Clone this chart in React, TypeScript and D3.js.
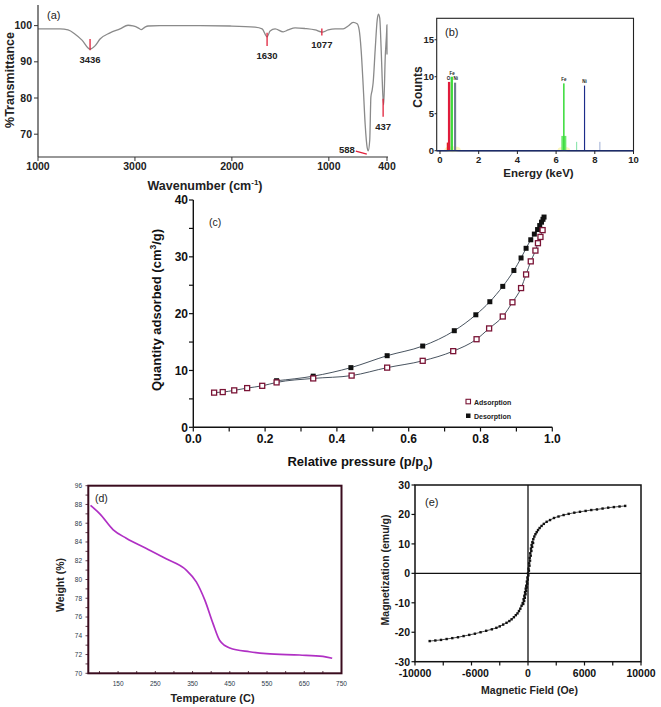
import React from "react";
import * as d3 from "d3";

// ---------- (a) FTIR ----------
const irWavenumber = [4000,3773,3690,3620,3546,3463,3412,3360,3257,3154,3071,3020,2968,2937,2896,2865,2741,2328,2019,1761,1688,1637,1606,1554,1471,1420,1348,1245,1141,1069,1007,935,852,801,749,708,687,667,646,625,604,594,578,566,553,543,522,501,488,475,460,442,434,418,403,401,400];
const irTransmittance = [99.1,99.1,98.8,97.7,96.0,93.5,94.4,96.3,98.0,99.1,100.1,99.9,99.4,98.9,99.6,99.9,100,100,99.9,99.6,99.1,96.9,98.5,99.1,98.3,98.8,99.4,99.2,98.8,98.2,98.8,99.1,99.1,99.9,100.9,100.5,98.8,93.3,83.6,72.6,66.2,65.4,68.4,80.3,82.2,84.2,93.3,101.6,103.2,102.1,93.3,80.4,78.1,91.4,98.8,100.2,92];
const irXTicks = [4000, 3000, 2000, 1000, 400];
const irXTickLabels = ["1000", "3000", "2000", "1000", "400"];
const irYTicks = [70, 80, 90, 100];
const irPeakLabels = ["3436", "1630", "1077", "588", "437"];
const irPeakWn = [3463, 1637, 1072, 598, 440];
const irPeakTop = [96.3, 98.0, 99.2, 67.5, 79.8];
const irPeakBottom = [93.2, 94.4, 97.3, 64.5, 74.8];

// ---------- (b) EDX ----------
const edxEnergy = [0.42, 0.47, 0.61, 0.78, 6.40, 6.40, 7.06, 7.47, 8.26];
const edxCounts = [1.1, 9.3, 10.0, 9.2, 2.0, 9.1, 1.2, 8.8, 1.2];
const edxWidth = [0.14, 0.12, 0.12, 0.11, 0.26, 0.08, 0.06, 0.06, 0.07];
const edxColor = ["#e02020", "#e01c3c", "#3ddc3d", "#707c90", "#6be86b", "#3ddc3d", "#8fe6b0", "#1c2c8a", "#b8c4e0"];
const edxLabelText = ["O", "Fe", "Ni", "Fe", "Ni"];
const edxLabelE = [0.44, 0.63, 0.82, 6.40, 7.47];
const edxLabelY = [9.6, 10.3, 9.5, 9.4, 9.1];
const edxXTicks = [0, 2, 4, 6, 8, 10];
const edxYTicks = [0, 5, 10, 15];

// ---------- (c) BET ----------
const adsP = [0.058,0.082,0.114,0.150,0.192,0.232,0.334,0.441,0.540,0.639,0.724,0.789,0.824,0.862,0.889,0.913,0.927,0.940,0.953,0.960,0.967,0.973];
const adsQ = [6.1,6.2,6.5,6.9,7.3,7.9,8.6,9.1,10.5,11.7,13.4,15.5,17.4,19.5,22.0,24.5,26.9,29.2,31.1,32.4,33.5,34.7];
const desP = [0.232,0.334,0.439,0.540,0.639,0.727,0.787,0.826,0.862,0.893,0.913,0.927,0.940,0.950,0.959,0.965,0.970,0.974,0.977];
const desQ = [8.2,9.0,10.5,12.6,14.3,17.0,19.8,22.1,24.8,27.6,29.8,31.5,33.0,34.0,34.8,35.5,36.1,36.6,37.0];
const betXTicks = [0, 0.2, 0.4, 0.6, 0.8, 1.0];
const betYTicks = [0, 10, 20, 30, 40];
const betLegend = ["Adsorption", "Desorption"];

// ---------- (d) TGA ----------
const tgaTemp = [76,101,137,172,226,279,333,360,383,405,423,450,503,548,637,700,725];
const tgaWeight = [87.9,87.0,85.3,84.4,83.3,82.2,81.0,79.75,77.8,75.3,73.5,72.7,72.3,72.1,71.95,71.8,71.6];
const tgaXTicks = [150, 250, 350, 450, 550, 650, 750];
const tgaYTicks = [70, 72, 74, 76, 78, 80, 82, 84, 86, 88, 90];
const tgaYTickLabels = ["70", "72", "74", "76", "78", "80", "82", "84", "86", "88", "96"];

// ---------- (e) VSM ----------
const vsmH = [-8700,-8200,-7700,-7200,-6700,-6200,-5700,-5200,-4700,-4200,-3700,-3200,-2800,-2500,-2200,-1900,-1650,-1450,-1250,-1080,-930,-800,-680,-570,-470,-390,-320,-260,-200,-150,-100,-50,0,50,100,150,200,260,320,390,470,560,660,770,890,1030,1200,1400,1650,1950,2300,2700,3150,3600,4100,4600,5100,5600,6100,6600,7100,7600,8100,8600];
const vsmM = [-23.0,-22.8,-22.6,-22.3,-22.0,-21.7,-21.3,-20.9,-20.5,-20.0,-19.5,-19.0,-18.5,-18.0,-17.4,-16.8,-16.2,-15.6,-14.9,-14.2,-13.6,-12.8,-12.0,-11.0,-10.1,-8.8,-7.6,-6.4,-5.2,-4.2,-2.8,-1.4,0,1.6,3.4,5.2,6.8,8.4,9.6,10.6,11.6,12.5,13.3,14.0,14.7,15.4,16.1,16.8,17.5,18.1,18.8,19.3,19.8,20.2,20.6,20.9,21.2,21.5,21.7,22.0,22.3,22.5,22.7,22.9];
const vsmReturnH = [-420,-340,-280,-220,-170,-120,-70,-20,30,80,130,180,240,300,370,450];
const vsmReturnM = [-10.4,-9.4,-8.3,-7.1,-6.0,-4.8,-3.5,-2.1,-0.7,0.9,2.6,4.3,6.0,7.6,9.0,10.3];
const vsmXTicks = [-10000, -7500, -5000, -2500, 0, 2500, 5000, 7500, 10000];
const vsmXLabelTicks = [-10000, -5000, 0, 5000, 10000];
const vsmXLabels = ["-10000", "-6000", "0", "6000", "10000"];
const vsmYTicks = [-30, -20, -10, 0, 10, 20, 30];

const FONT = "Liberation Sans, Arial, Helvetica, sans-serif";

function PanelA() {
  const x = d3.scaleLinear().domain([4000, 400]).range([38, 387]);
  const y = d3.scaleLinear().domain([63.7, 105.7]).range([157, 5]);
  const line = d3.line<number>().x((_, i) => x(irWavenumber[i])).y((d) => y(d)).curve(d3.curveMonotoneX);
  return (
    <g fontFamily={FONT}>
      <path d={line(irTransmittance) || ""} fill="none" stroke="#8a8a8a" strokeWidth={1.3} />
      <line x1={38} x2={38} y1={5} y2={157} stroke="#333" strokeWidth={1.2} />
      <line x1={38} x2={388} y1={157} y2={157} stroke="#333" strokeWidth={1.2} />
      {irXTicks.map((t, i) => (
        <g key={i}>
          <line x1={x(t)} x2={x(t)} y1={157} y2={161} stroke="#333" />
          <text x={x(t)} y={170} fontSize={10.5} fontWeight="bold" textAnchor="middle" fill="#222">{irXTickLabels[i]}</text>
        </g>
      ))}
      {irYTicks.map((t) => (
        <g key={t}>
          <line x1={34} x2={38} y1={y(t)} y2={y(t)} stroke="#333" />
          <text x={32} y={y(t) + 3.5} fontSize={10.5} fontWeight="bold" textAnchor="end" fill="#222">{t}</text>
        </g>
      ))}
      {irPeakLabels.map((lab, i) => {
        const px = x(irPeakWn[i]);
        if (lab === "588") {
          return (
            <g key={lab}>
              <line x1={px - 12} x2={px - 1} y1={y(irPeakBottom[i]) - 3} y2={y(irPeakBottom[i])} stroke="#e0203a" strokeWidth={1.3} />
              <text x={px - 21} y={y(irPeakBottom[i]) - 1} fontSize={9.5} fontWeight="bold" textAnchor="middle" fill="#222">{lab}</text>
            </g>
          );
        }
        return (
          <g key={lab}>
            <line x1={px} x2={px} y1={y(irPeakTop[i])} y2={y(irPeakBottom[i])} stroke="#e0203a" strokeWidth={1.3} />
            <text x={px} y={y(irPeakBottom[i]) + 13} fontSize={9.5} fontWeight="bold" textAnchor="middle" fill="#222">{lab}</text>
          </g>
        );
      })}
      <text x={47} y={19} fontSize={11} fill="#222">(a)</text>
      <text transform="translate(14,80) rotate(-90)" fontSize={12.5} fontWeight="bold" textAnchor="middle" fill="#222">%Transmittance</text>
      <text x={205} y={190} fontSize={12.5} fontWeight="bold" textAnchor="middle" fill="#222">
        Wavenumber (cm<tspan dy={-5} fontSize={8}>-1</tspan><tspan dy={5}>)</tspan>
      </text>
    </g>
  );
}

function PanelB() {
  const x = d3.scaleLinear().domain([-0.17, 10]).range([436.7, 633.5]);
  const y = d3.scaleLinear().domain([0, 17.9]).range([150.7, 18.3]);
  return (
    <g fontFamily={FONT}>
      <rect x={436.7} y={18.3} width={196.8} height={132.4} fill="white" stroke="#222" strokeWidth={1.1} />
      <ellipse cx={x(0.65)} cy={y(0.2)} rx={8} ry={3} fill="#fbf6b0" opacity={0.8} />
      <ellipse cx={x(6.4)} cy={y(0.2)} rx={6} ry={2.5} fill="#fbf6b0" opacity={0.8} />
      {edxEnergy.map((e, i) => (
        <rect key={i} x={x(e - edxWidth[i] / 2)} y={y(edxCounts[i])} width={x(e + edxWidth[i] / 2) - x(e - edxWidth[i] / 2)} height={y(0) - y(edxCounts[i])} fill={edxColor[i]} />
      ))}
      {edxLabelText.map((t, i) => (
        <text key={i} x={x(edxLabelE[i])} y={y(edxLabelY[i])} fontSize={4.5} fontWeight="bold" textAnchor="middle" fill="#222">{t}</text>
      ))}
      <line x1={436.7} x2={633.5} y1={150.7} y2={150.7} stroke="#1c2c6a" strokeWidth={1.4} />
      {edxXTicks.map((t) => (
        <g key={t}>
          <line x1={x(t)} x2={x(t)} y1={151} y2={154} stroke="#222" />
          <text x={x(t)} y={162.5} fontSize={9.5} fontWeight="bold" textAnchor="middle" fill="#222">{t}</text>
        </g>
      ))}
      {edxYTicks.map((t) => (
        <g key={t}>
          <line x1={434.5} x2={436.7} y1={y(t)} y2={y(t)} stroke="#222" />
          <text x={434} y={y(t) + 3.3} fontSize={9.5} fontWeight="bold" textAnchor="end" fill="#222">{t}</text>
        </g>
      ))}
      <text x={445} y={36} fontSize={11} fill="#222">(b)</text>
      <text transform="translate(422.3,87) rotate(-90)" fontSize={12} fontWeight="bold" textAnchor="middle" fill="#222">Counts</text>
      <text x={538.5} y={177} fontSize={11.5} fontWeight="bold" textAnchor="middle" fill="#222">Energy (keV)</text>
    </g>
  );
}

function PanelC() {
  const x = d3.scaleLinear().domain([0, 1]).range([193.3, 552.3]);
  const y = d3.scaleLinear().domain([0, 40]).range([427.3, 200]);
  const lineA = d3.line<number>().x((_, i) => x(adsP[i])).y((d) => y(d)).curve(d3.curveMonotoneX);
  const lineD = d3.line<number>().x((_, i) => x(desP[i])).y((d) => y(d)).curve(d3.curveMonotoneX);
  const minorX = d3.range(0, 11).map((k) => k / 10);
  const minorY = d3.range(0, 9).map((k) => k * 5);
  const s = 5;
  return (
    <g fontFamily={FONT}>
      <path d={lineA(adsQ) || ""} fill="none" stroke="#33404d" strokeWidth={0.9} />
      <path d={lineD(desQ) || ""} fill="none" stroke="#33404d" strokeWidth={0.9} />
      {desP.map((p, i) => (
        <rect key={"d" + i} x={x(p) - s / 2} y={y(desQ[i]) - s / 2} width={s} height={s} fill="#111" />
      ))}
      {adsP.map((p, i) => (
        <rect key={"a" + i} x={x(p) - s / 2} y={y(adsQ[i]) - s / 2} width={s} height={s} fill="white" stroke="#7a1436" strokeWidth={1.3} />
      ))}
      <line x1={193.3} x2={193.3} y1={200} y2={427.3} stroke="#111" strokeWidth={1.4} />
      <line x1={193.3} x2={552.3} y1={427.3} y2={427.3} stroke="#111" strokeWidth={1.4} />
      {minorX.map((t, i) => (
        <line key={i} x1={x(t)} x2={x(t)} y1={427.3} y2={431.5} stroke="#111" strokeWidth={1.2} />
      ))}
      {minorY.map((t, i) => (
        <line key={i} x1={189} x2={193.3} y1={y(t)} y2={y(t)} stroke="#111" strokeWidth={1.2} />
      ))}
      {betXTicks.map((t) => (
        <text key={t} x={x(t)} y={443} fontSize={12} fontWeight="bold" textAnchor="middle" fill="#111">{t.toFixed(1)}</text>
      ))}
      {betYTicks.map((t) => (
        <text key={t} x={188} y={y(t) + 4.3} fontSize={12} fontWeight="bold" textAnchor="end" fill="#111">{t}</text>
      ))}
      <rect x={466} y={399.3} width={4.5} height={4.5} fill="white" stroke="#7a1436" strokeWidth={1.1} />
      <rect x={466} y={413.5} width={4.5} height={4.5} fill="#111" />
      <text x={474} y={404.5} fontSize={7} fontWeight="bold" fill="#222">{betLegend[0]}</text>
      <text x={474} y={418.5} fontSize={7} fontWeight="bold" fill="#222">{betLegend[1]}</text>
      <text x={209} y={225.5} fontSize={10.5} fill="#222">(c)</text>
      <text transform="translate(161,310) rotate(-90)" fontSize={13} fontWeight="bold" textAnchor="middle" fill="#111">
        Quantity adsorbed (cm<tspan dy={-5} fontSize={8.5}>3</tspan><tspan dy={5}>/g)</tspan>
      </text>
      <text x={360} y={466} fontSize={13} fontWeight="bold" textAnchor="middle" fill="#111">
        Relative pressure (p/p<tspan dy={5} fontSize={9}>0</tspan><tspan dy={-5}>)</tspan>
      </text>
    </g>
  );
}

function PanelD() {
  const x = d3.scaleLinear().domain([70, 750]).range([88.3, 341.5]);
  const y = d3.scaleLinear().domain([70, 90]).range([673.3, 485.7]);
  const line = d3.line<number>().x((_, i) => x(tgaTemp[i])).y((d) => y(d)).curve(d3.curveMonotoneX);
  const minorY = d3.range(70, 91, 1);
  const minorX = d3.range(100, 751, 50);
  return (
    <g fontFamily={FONT}>
      <path d={line(tgaWeight) || ""} fill="none" stroke="#b030c4" strokeWidth={1.7} />
      <rect x={88.3} y={485.7} width={253.2} height={187.6} fill="none" stroke="#3a0c1e" strokeWidth={2} />
      {minorY.map((t) => (
        <line key={t} x1={85.5} x2={88.3} y1={y(t)} y2={y(t)} stroke="#3a0c1e" strokeWidth={0.8} />
      ))}
      {minorX.map((t) => (
        <line key={t} x1={x(t)} x2={x(t)} y1={673.3} y2={671} stroke="#3a0c1e" strokeWidth={0.8} />
      ))}
      {tgaYTicks.map((t, i) => (
        <text key={t} x={82} y={y(t) + 2.4} fontSize={6.5} textAnchor="end" fill="#2c3a4a">{tgaYTickLabels[i]}</text>
      ))}
      {tgaXTicks.map((t) => (
        <text key={t} x={x(t)} y={686} fontSize={6.5} textAnchor="middle" fill="#2c3a4a">{t}</text>
      ))}
      <text x={95} y={502} fontSize={10.5} fill="#222">(d)</text>
      <text transform="translate(64,585) rotate(-90)" fontSize={10.5} fontWeight="bold" textAnchor="middle" fill="#222">Weight (%)</text>
      <text x={212.5} y={702} fontSize={11} fontWeight="bold" textAnchor="middle" fill="#222">Temperature (C)</text>
    </g>
  );
}

function PanelE() {
  const x = d3.scaleLinear().domain([-10000, 10000]).range([415, 641]);
  const y = d3.scaleLinear().domain([-30, 30]).range([661.7, 485]);
  const line = d3.line<number>().x((_, i) => x(vsmH[i])).y((d) => y(d)).curve(d3.curveMonotoneX);
  const s = 2.4;
  return (
    <g fontFamily={FONT}>
      <rect x={415} y={485} width={226} height={176.7} fill="none" stroke="#111" strokeWidth={1.5} />
      <line x1={x(0)} x2={x(0)} y1={485} y2={661.7} stroke="#111" strokeWidth={1.3} />
      <line x1={415} x2={641} y1={y(0)} y2={y(0)} stroke="#111" strokeWidth={1.3} />
      <path d={line(vsmM) || ""} fill="none" stroke="#222" strokeWidth={0.8} />
      {vsmH.map((h, i) => (
        <rect key={"m" + i} x={x(h) - s / 2} y={y(vsmM[i]) - s / 2} width={s} height={s} fill="#111" />
      ))}
      {vsmReturnH.map((h, i) => (
        <rect key={"r" + i} x={x(h) - s / 2} y={y(vsmReturnM[i]) - s / 2} width={s} height={s} fill="#111" />
      ))}
      {vsmXTicks.map((t) => (
        <line key={t} x1={x(t)} x2={x(t)} y1={661.7} y2={665.5} stroke="#111" strokeWidth={1.2} />
      ))}
      {vsmXLabelTicks.map((t, i) => (
        <text key={t} x={x(t) + (t === -5000 ? 4 : 0)} y={676.5} fontSize={10.5} fontWeight="bold" textAnchor="middle" fill="#111">{vsmXLabels[i]}</text>
      ))}
      {vsmYTicks.map((t) => (
        <g key={t}>
          <line x1={411.5} x2={415} y1={y(t)} y2={y(t)} stroke="#111" strokeWidth={1.2} />
          <text x={410} y={y(t) + 4} fontSize={10.5} fontWeight="bold" textAnchor="end" fill="#111">{t}</text>
        </g>
      ))}
      <text x={425} y={506} fontSize={11} fill="#222">(e)</text>
      <text transform="translate(389,570) rotate(-90)" fontSize={10.5} fontWeight="bold" textAnchor="middle" fill="#222">Magnetization (emu/g)</text>
      <text x={529.5} y={694} fontSize={10.5} fontWeight="bold" textAnchor="middle" fill="#222">Magnetic Field (Oe)</text>
    </g>
  );
}

export default function App() {
  return (
    <svg width={661} height={707} viewBox="0 0 661 707" style={{ position: "absolute", left: 0, top: 0, display: "block", background: "white" }}>
      <rect x={0} y={0} width={661} height={707} fill="white" />
      <PanelA />
      <PanelB />
      <PanelC />
      <PanelD />
      <PanelE />
    </svg>
  );
}
